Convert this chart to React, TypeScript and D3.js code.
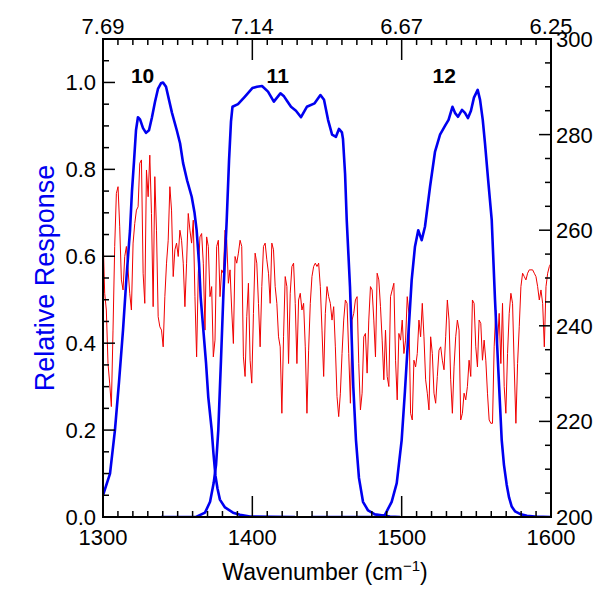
import React from "react";
import * as d3 from "d3";

// ---- Data ----
const band10Wn = [1300, 1304.7, 1308.0, 1310.7, 1313.4, 1315.7, 1318.1, 1319.4, 1320.8, 1322.1, 1323.4, 1324.8, 1326.8, 1328.8, 1330.8, 1332.8, 1334.8, 1336.8, 1338.8, 1340.2, 1342.2, 1344.2, 1346.2, 1349.4, 1351.6, 1353.6, 1356.3, 1359.4, 1361.3, 1362.7, 1364.3, 1365.4, 1367.2, 1369.0, 1370.5, 1372.8, 1374.0, 1375.3, 1376.7, 1378.3, 1381.7, 1387.1, 1391.7, 1398.4, 1428.6];
const band10R = [0.05, 0.10, 0.20, 0.31, 0.43, 0.55, 0.66, 0.75, 0.82, 0.89, 0.92, 0.915, 0.895, 0.884, 0.89, 0.92, 0.955, 0.985, 0.998, 1.0, 0.99, 0.96, 0.93, 0.89, 0.86, 0.815, 0.775, 0.737, 0.70, 0.66, 0.585, 0.506, 0.43, 0.354, 0.276, 0.2, 0.145, 0.095, 0.065, 0.04, 0.022, 0.01, 0.005, 0.001, 0.0];

const band11Wn = [1338.8, 1362.3, 1368.3, 1371.7, 1374.1, 1375.7, 1377.2, 1379.0, 1380.7, 1382.8, 1384.4, 1385.7, 1386.7, 1390.4, 1394.9, 1400.0, 1403.1, 1406.5, 1410.5, 1414.4, 1418.8, 1421.2, 1423.5, 1425.9, 1429.2, 1432.6, 1436.5, 1441.7, 1445.6, 1448.0, 1450.7, 1453.4, 1456.0, 1458.0, 1460.0, 1460.7, 1462.1, 1463.2, 1465.4, 1467.6, 1469.4, 1471.4, 1474.1, 1477.5, 1482.1, 1492.2, 1498.9];
const band11R = [0.0, 0.0, 0.01, 0.035, 0.078, 0.12, 0.2, 0.36, 0.52, 0.68, 0.82, 0.91, 0.944, 0.95, 0.967, 0.987, 0.99, 0.992, 0.979, 0.956, 0.975, 0.968, 0.956, 0.944, 0.935, 0.92, 0.944, 0.952, 0.971, 0.96, 0.914, 0.88, 0.875, 0.893, 0.885, 0.87, 0.79, 0.684, 0.53, 0.3, 0.177, 0.09, 0.035, 0.015, 0.006, 0.001, 0.0];

const band12Wn = [1439.3, 1485.5, 1488.8, 1493.3, 1496.7, 1500.0, 1502.2, 1504.4, 1506.7, 1508.9, 1511.1, 1513.4, 1515.6, 1519.0, 1522.3, 1525.7, 1529.0, 1531.4, 1534.0, 1535.7, 1537.7, 1540.4, 1542.4, 1544.4, 1546.4, 1548.4, 1550.9, 1552.5, 1554.3, 1555.8, 1557.8, 1560.3, 1562.5, 1564.7, 1567.0, 1568.5, 1570.3, 1571.9, 1573.7, 1575.9, 1579.2, 1583.9, 1589.3, 1600];
const band12R = [0.0, 0.0, 0.005, 0.035, 0.078, 0.177, 0.29, 0.415, 0.545, 0.622, 0.66, 0.637, 0.668, 0.76, 0.84, 0.88, 0.9, 0.914, 0.944, 0.93, 0.921, 0.937, 0.93, 0.918, 0.935, 0.965, 0.983, 0.96, 0.914, 0.86, 0.78, 0.684, 0.5, 0.34, 0.177, 0.12, 0.075, 0.045, 0.024, 0.013, 0.007, 0.003, 0.001, 0.0];

// Brightness temperature spectrum (K), sampled uniformly from 1300 to 1600 cm-1
const btK = [
  259.3, 246.8, 243.3, 232.1, 228.0, 223.1, 239.1, 256.6, 267.7, 269.1,
  260.7, 249.6, 247.5, 254.5, 256.6, 251.7, 246.8, 243.3, 257.3, 261.4,
  264.2, 264.9, 274.0, 274.7, 251.0, 244.7, 272.6, 267.0, 275.7, 263.5,
  244.0, 271.2, 260.0, 241.9, 239.8, 239.1, 235.6, 246.1, 253.1, 257.9,
  269.1, 264.2, 250.3, 255.9, 257.3, 254.5, 260.0, 257.9, 253.1, 244.0,
  253.1, 263.5, 260.0, 257.3, 262.1, 246.1, 233.5, 251.0, 258.6, 259.3,
  253.1, 239.1, 258.6, 256.6, 246.1, 248.2, 233.5, 237.0, 256.6, 257.9,
  246.1, 251.7, 251.0, 260.0, 257.9, 248.9, 251.7, 243.3, 236.3, 254.5,
  253.1, 255.2, 257.9, 256.6, 233.5, 229.4, 241.9, 248.9,
  232.8, 228.0, 242.6, 255.2, 253.1, 244.7, 235.6, 248.2, 256.6, 257.3,
  253.8, 251.0, 244.7, 257.3, 255.9, 248.2, 244.7, 237.7, 235.6, 221.7,
  237.7, 250.3, 248.2, 232.1, 246.8, 252.4, 253.1, 244.7, 232.1, 245.4,
  246.8, 243.3, 244.7, 235.6, 221.7, 234.9, 244.7, 250.3, 252.4, 253.1,
  252.4, 253.1, 248.2, 239.1, 229.4, 242.6, 248.2, 246.1, 244.7, 241.2,
  244.0, 235.6, 225.2, 221.0, 225.9, 234.2, 241.2, 245.4, 244.7, 234.2,
  223.8, 241.2, 242.6, 245.4, 246.1, 232.1, 222.4, 225.9, 237.7, 238.4,
  230.1, 241.2, 248.2, 247.5, 241.2, 233.5, 251.0, 249.6, 244.0, 237.0,
  228.7, 239.1, 229.4, 227.3, 246.1, 247.5, 248.9, 232.8, 224.5, 238.4,
  237.0,
  241.2, 234.2, 237.0, 246.1, 242.6, 221.7, 220.3, 232.8, 231.4, 234.2,
  241.2, 237.7, 244.7, 237.7, 228.7, 225.9, 222.4, 237.7, 234.2, 225.9,
  223.8, 229.4, 234.9, 235.6, 232.8, 230.8, 237.7, 245.4, 241.2, 228.7,
  221.7, 231.4, 237.7, 241.2, 239.1, 220.3, 221.7, 225.9, 224.5, 227.3,
  232.8, 229.4, 245.4, 244.7, 235.6, 231.4, 241.2, 240.5, 232.8, 237.0,
  232.8, 225.9, 220.3, 219.6, 219.6, 235.6, 243.3, 236.3, 242.6, 232.1,
  244.7, 227.3, 221.7, 234.2, 242.6, 246.8, 244.7, 231.4, 219.6, 232.1,
  239.8, 248.2, 251.0, 250.3, 249.6, 251.0, 251.7, 251.7, 251.7, 251.0,
  250.3, 248.2, 245.4, 247.5, 244.7, 235.6, 248.2, 251.0, 252.4, 253.1,
];

const bottomTicks = [1300, 1400, 1500, 1600];
const topTickLabels = ["7.69", "7.14", "6.67", "6.25"];
const leftTicks = [0, 0.2, 0.4, 0.6, 0.8, 1.0];
const rightTicks = [200, 220, 240, 260, 280, 300];
const bandLabels = ["10", "11", "12"];
const bandLabelWn = [1326.5, 1417, 1528.5];

// ---- Layout ----
const W = 609, H = 603;
const L = 103, R = 551, T = 39, B = 517;
const FONT = "'Liberation Sans', Arial, Helvetica, sans-serif";
const BLUE = "#0000f0";
const RED = "#f00000";

export default function App() {
  const x = d3.scaleLinear().domain([1300, 1600]).range([L, R]);
  const yL = d3.scaleLinear().domain([0, 1.1]).range([B, T]);
  const yR = d3.scaleLinear().domain([200, 300]).range([B, T]);

  const btWn = btK.map((_, i) => 1300 + (i * 300) / (btK.length - 1));
  const redLine = d3.line<number>().x((_, i) => x(btWn[i])).y((d) => yR(d));
  const blueLine = (wn: number[]) =>
    d3.line<number>().x((_, i) => x(wn[i])).y((d) => yL(d));

  const minorX = d3.range(1300, 1601, 10);
  const minorL = d3.range(0, 1.1001, 0.05);
  const minorR = d3.range(200, 300.01, 5);

  return (
    <svg width={W} height={H} style={{ position: "absolute", left: 0, top: 0, background: "#fff" }} fontFamily={FONT}>
      <rect x={0} y={0} width={W} height={H} fill="#fff" />
      <defs>
        <clipPath id="plot">
          <rect x={L} y={T} width={R - L} height={B - T} />
        </clipPath>
      </defs>
      <g clipPath="url(#plot)">
        <path d={redLine(btK) || ""} fill="none" stroke={RED} strokeWidth={1} />
        <path d={blueLine(band10Wn)(band10R) || ""} fill="none" stroke={BLUE} strokeWidth={2.6} strokeLinejoin="round" />
        <path d={blueLine(band11Wn)(band11R) || ""} fill="none" stroke={BLUE} strokeWidth={2.6} strokeLinejoin="round" />
        <path d={blueLine(band12Wn)(band12R) || ""} fill="none" stroke={BLUE} strokeWidth={2.6} strokeLinejoin="round" />
      </g>

      {/* frame */}
      <rect x={L} y={T} width={R - L} height={B - T} fill="none" stroke="#000" strokeWidth={2} />

      {/* x ticks bottom & top */}
      {minorX.map((v) => {
        const major = v % 100 === 0;
        const len = major ? 21 : 6;
        return (
          <g key={"x" + v} stroke="#000" strokeWidth={1.5}>
            <line x1={x(v)} x2={x(v)} y1={B} y2={B - len} />
            <line x1={x(v)} x2={x(v)} y1={T} y2={T + len} />
          </g>
        );
      })}
      {/* left ticks */}
      {minorL.map((v, i) => {
        const major = i % 4 === 0;
        const len = major ? 12 : 6;
        return <line key={"l" + i} x1={L} x2={L + len} y1={yL(v)} y2={yL(v)} stroke="#000" strokeWidth={1.5} />;
      })}
      {/* right ticks */}
      {minorR.map((v, i) => {
        const major = i % 4 === 0;
        const len = major ? 12 : 6;
        return <line key={"r" + i} x1={R} x2={R - len} y1={yR(v)} y2={yR(v)} stroke="#000" strokeWidth={1.5} />;
      })}

      {/* tick labels */}
      {bottomTicks.map((v) => (
        <text key={"bt" + v} x={x(v)} y={545} fontSize={22} textAnchor="middle" fill="#000">{v}</text>
      ))}
      {bottomTicks.map((v, i) => (
        <text key={"tt" + v} x={x(v)} y={34} fontSize={22} textAnchor="middle" fill="#000">{topTickLabels[i]}</text>
      ))}
      {leftTicks.map((v) => (
        <text key={"lt" + v} x={96} y={yL(v) + 8} fontSize={22} textAnchor="end" fill="#000">{v.toFixed(1)}</text>
      ))}
      {rightTicks.map((v) => (
        <text key={"rt" + v} x={556} y={yR(v) + 8} fontSize={22} textAnchor="start" fill="#000">{v}</text>
      ))}

      {/* band labels */}
      {bandLabels.map((s, i) => (
        <text key={"bl" + s} x={x(bandLabelWn[i])} y={83} fontSize={21} fontWeight="bold" textAnchor="middle" fill="#000">{s}</text>
      ))}

      {/* axis titles */}
      <text transform={`translate(54,278) rotate(-90)`} fontSize={27} textAnchor="middle" fill={BLUE}>Relative Response</text>
      <text x={325} y={580} fontSize={23} textAnchor="middle" fill="#000">
        Wavenumber (cm<tspan dy={-9} fontSize={15}>−1</tspan><tspan dy={9}>)</tspan>
      </text>
    </svg>
  );
}
